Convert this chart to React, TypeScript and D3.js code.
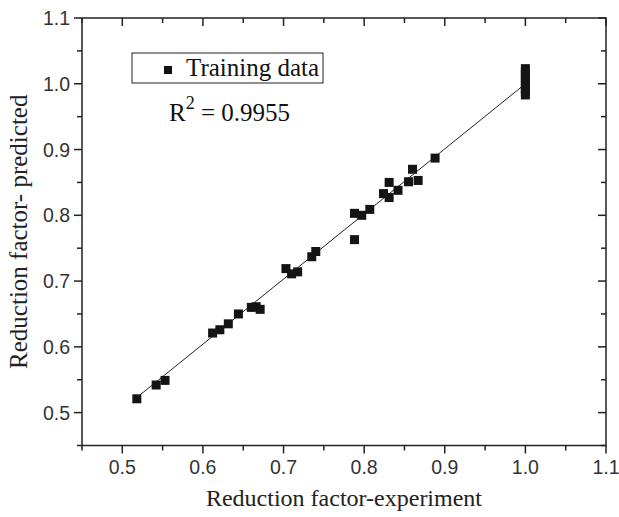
import React from "react";
import * as d3 from "d3";

const expX = [0.518, 0.542, 0.553, 0.612, 0.621, 0.6315, 0.644, 0.660, 0.666, 0.671, 0.703, 0.710, 0.7175, 0.735, 0.740, 0.788, 0.788, 0.797, 0.807, 0.824, 0.831, 0.831, 0.842, 0.855, 0.860, 0.867, 0.888, 1.0, 1.0, 1.0, 1.0, 1.0, 1.0, 1.0, 1.0, 1.0];
const predY = [0.521, 0.542, 0.549, 0.621, 0.626, 0.635, 0.650, 0.660, 0.661, 0.657, 0.719, 0.711, 0.714, 0.737, 0.745, 0.803, 0.763, 0.800, 0.809, 0.833, 0.850, 0.827, 0.838, 0.851, 0.870, 0.853, 0.887, 0.983, 0.988, 0.993, 0.998, 1.003, 1.008, 1.013, 1.018, 1.023];
const fitLine = [[0.514, 0.519], [1.0, 1.0]];
const tickValues = [0.5, 0.6, 0.7, 0.8, 0.9, 1.0, 1.1];
const minorValues = [0.45, 0.55, 0.65, 0.75, 0.85, 0.95, 1.05];
const xTitle = "Reduction factor-experiment";
const yTitle = "Reduction factor- predicted";
const legendLabel = "Training data";
const r2Value = "0.9955";

export default function App() {
  const L = 82, R = 606, T = 18, B = 445.5;
  const x = d3.scaleLinear().domain([0.45, 1.1]).range([L, R]);
  const y = d3.scaleLinear().domain([0.45, 1.1]).range([B, T]);
  const line = d3.line<number[]>().x(d => x(d[0])).y(d => y(d[1]));
  const ms = 9;
  const ink = "#141414";
  const sans = "Liberation Sans, Arial, sans-serif";
  const serif = "Liberation Serif, Times New Roman, serif";
  return (
    <svg width={619} height={517} style={{ position: "absolute", left: 0, top: 0, background: "#fff" }}>
      <rect x={0} y={0} width={619} height={517} fill="#fff" />
      <path d={line(fitLine) || ""} stroke="#222" strokeWidth={1} fill="none" />
      {expX.map((v, i) => (
        <rect key={i} x={x(v) - ms / 2} y={y(predY[i]) - ms / 2} width={ms} height={ms} fill={ink} />
      ))}
      <rect x={L} y={T} width={R - L} height={B - T} fill="none" stroke="#222" strokeWidth={1.5} />
      {tickValues.map(v => (
        <g key={"bx" + v}>
          <line x1={x(v)} x2={x(v)} y1={B} y2={B + 8} stroke="#222" strokeWidth={1.5} />
          <line x1={x(v)} x2={x(v)} y1={T} y2={T + 8} stroke="#222" strokeWidth={1.5} />
          <text x={x(v)} y={B + 28} textAnchor="middle" fontFamily={sans} fontSize={19.5} fill="#333">{d3.format(".1f")(v)}</text>
        </g>
      ))}
      {minorValues.map(v => (
        <g key={"mx" + v}>
          <line x1={x(v)} x2={x(v)} y1={B} y2={B + 5} stroke="#222" strokeWidth={1.5} />
          <line x1={x(v)} x2={x(v)} y1={T} y2={T + 5} stroke="#222" strokeWidth={1.5} />
          <line x1={L} x2={L - 5} y1={y(v)} y2={y(v)} stroke="#222" strokeWidth={1.5} />
          <line x1={R} x2={R - 5} y1={y(v)} y2={y(v)} stroke="#222" strokeWidth={1.5} />
        </g>
      ))}
      {tickValues.map(v => (
        <g key={"ly" + v}>
          <line x1={L} x2={L - 8} y1={y(v)} y2={y(v)} stroke="#222" strokeWidth={1.5} />
          <line x1={R} x2={R - 8} y1={y(v)} y2={y(v)} stroke="#222" strokeWidth={1.5} />
          <text x={L - 12} y={y(v)} dy="0.36em" textAnchor="end" fontFamily={sans} fontSize={19.5} fill="#333">{d3.format(".1f")(v)}</text>
        </g>
      ))}
      <text x={(L + R) / 2} y={506} textAnchor="middle" fontFamily={serif} fontSize={24} fill="#222">{xTitle}</text>
      <text transform={`translate(27, ${(T + B) / 2}) rotate(-90)`} textAnchor="middle" fontFamily={serif} fontSize={25} fill="#222">{yTitle}</text>
      <rect x={132} y={53} width={191} height={30} fill="#fff" stroke="#222" strokeWidth={1} />
      <rect x={164} y={66} width={8} height={8} fill={ink} />
      <text x={186} y={76} fontFamily={serif} fontSize={25} fill="#111">{legendLabel}</text>
      <text x={169} y={121} fontFamily={serif} fontSize={25} fill="#111">
        R<tspan dy={-12} fontSize={18}>2</tspan><tspan dy={12}> = {r2Value}</tspan>
      </text>
    </svg>
  );
}
